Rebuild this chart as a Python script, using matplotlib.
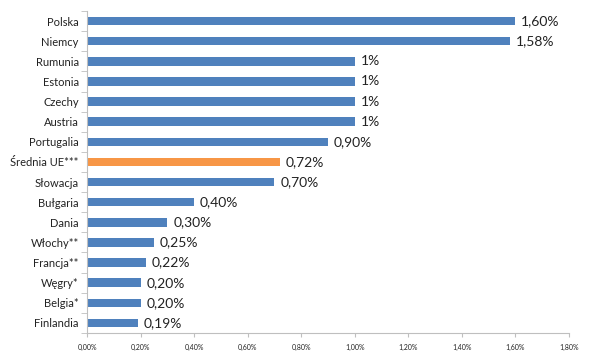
import matplotlib
matplotlib.use("Agg")
import matplotlib.pyplot as plt
from matplotlib.ticker import FuncFormatter, FixedLocator

categories = ["Polska", "Niemcy", "Rumunia", "Estonia", "Czechy", "Austria",
              "Portugalia", "Średnia UE***", "Słowacja", "Bułgaria", "Dania",
              "Włochy**", "Francja**", "Węgry*", "Belgia*", "Finlandia"]
values = [1.60, 1.58, 1.00, 1.00, 1.00, 1.00, 0.90, 0.72, 0.70, 0.40, 0.30,
          0.25, 0.22, 0.20, 0.20, 0.19]
value_labels = ["1,60%", "1,58%", "1%", "1%", "1%", "1%", "0,90%", "0,72%",
                "0,70%", "0,40%", "0,30%", "0,25%", "0,22%", "0,20%", "0,20%", "0,19%"]
highlight = "Średnia UE***"
xticks = [0.0, 0.2, 0.4, 0.6, 0.8, 1.0, 1.2, 1.4, 1.6, 1.8]

plt.rcParams['font.family'] = ['Lato', 'DejaVu Sans']

fig = plt.figure(figsize=(5.9, 3.55), dpi=100)
ax = fig.add_axes([0.1475, 0.062, 0.8169, 0.907])

blue = "#4F81BD"
orange = "#F79646"
n = len(categories)
ypos = list(range(n))
colors = [orange if c == highlight else blue for c in categories]
ax.barh(ypos, values, height=0.42, color=colors, zorder=2)

for y, v, lab in zip(ypos, values, value_labels):
    ax.text(v + 0.022, y, lab, va="center", ha="left", fontsize=10, color="#222222")

ax.set_yticks(ypos)
ax.set_yticklabels(categories, fontsize=8, color="#222222")
ax.set_ylim(n - 0.5, -0.5)
ax.set_xlim(0, 1.8)
ax.set_xticks(xticks)
ax.xaxis.set_major_formatter(FuncFormatter(lambda x, p: f"{x:.2f}%".replace(".", ",")))
ax.tick_params(axis="x", labelsize=5, colors="#222222", length=3, color="#BFBFBF", pad=5)
ax.tick_params(axis="y", length=0, pad=6)
# minor ticks at category boundaries on the y axis
ax.yaxis.set_minor_locator(FixedLocator([i - 0.5 for i in range(n + 1)]))
ax.tick_params(axis="y", which="minor", length=4, color="#BFBFBF", direction="out")

for s in ["top", "right"]:
    ax.spines[s].set_visible(False)
for s in ["left", "bottom"]:
    ax.spines[s].set_color("#BFBFBF")
    ax.spines[s].set_linewidth(0.8)

fig.savefig("out.png", dpi=100)
